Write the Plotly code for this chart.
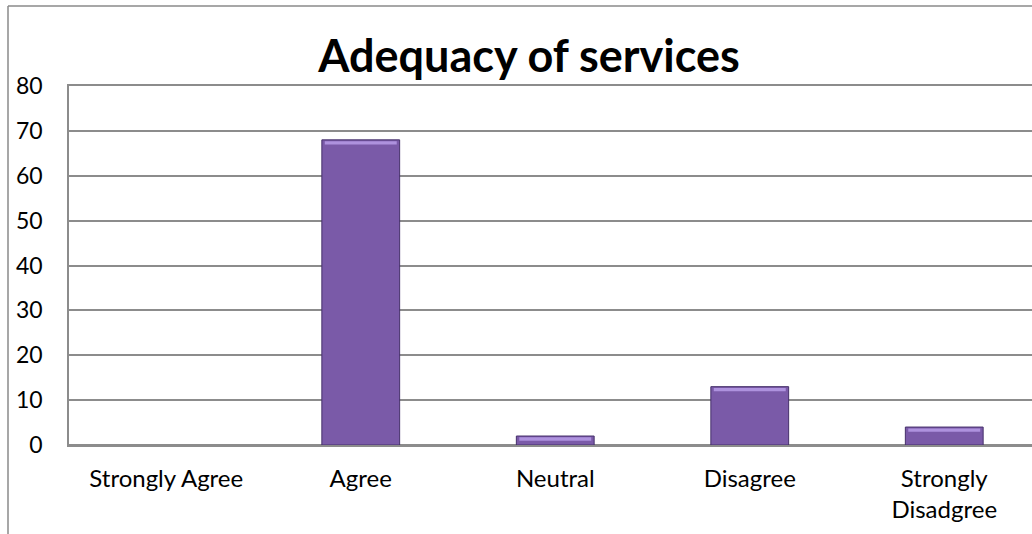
import plotly.graph_objects as go

# Survey responses on adequacy of services
categories = ["Strongly Agree", "Agree", "Neutral", "Disagree", "Strongly<br>Disadgree"]
responses = [0, 68, 2, 13, 4]
y_ticks = [0, 10, 20, 30, 40, 50, 60, 70, 80]

W, H = 1032, 534
FONT = "Lato"

fig = go.Figure()

# main bars
fig.add_trace(go.Bar(
    x=categories, y=responses, width=0.4,
    marker=dict(color="#7A5AA8",
                line=dict(color="#45306A", width=[1 if v > 0 else 0 for v in responses])),
    hoverinfo="x+y",
))

# lighter bevel strip along the top edge of each bar
cap = [0.75 if v >= 2 else 0 for v in responses]
fig.add_trace(go.Bar(
    x=categories, y=cap, base=[v - c - 0.3 for v, c in zip(responses, cap)],
    width=0.37,
    marker=dict(color="#AE92DE", line=dict(width=0)),
    hoverinfo="skip",
))

fig.update_layout(
    width=W, height=H,
    barmode="overlay",
    showlegend=False,
    paper_bgcolor="white",
    plot_bgcolor="white",
    margin=dict(l=69, r=0, t=86, b=89),
    title=dict(
        text="<b>Adequacy of services</b>",
        x=529 / W, xanchor="center",
        y=1 - 56 / H, yanchor="middle",
        font=dict(family=FONT, size=45, color="black"),
    ),
    font=dict(family=FONT, color="black"),
    shapes=[
        # outer chart frame (left and top edges)
        dict(type="line", xref="paper", yref="paper",
             x0=-61 / (W - 69), x1=-61 / (W - 69), y0=-2, y1=1 + 80 / (H - 175),
             line=dict(color="#8a8a8a", width=1.5)),
        dict(type="line", xref="paper", yref="paper",
             x0=-61 / (W - 69), x1=1.2, y0=1 + 80 / (H - 175), y1=1 + 80 / (H - 175),
             line=dict(color="#8a8a8a", width=1.5)),
    ],
)

fig.update_xaxes(
    type="category",
    range=[-0.5, -0.5 + (W - 69) / 194.5],
    showgrid=False,
    showline=True,
    mirror=True,
    linecolor="#8c8c8c",
    linewidth=1.5,
    ticks="",
    tickfont=dict(family=FONT, size=24, color="black"),
    ticklabelstandoff=11,
)

fig.update_yaxes(
    range=[0, 80],
    tickvals=y_ticks,
    showgrid=True,
    gridcolor="#8c8c8c",
    gridwidth=1.5,
    zeroline=True,
    zerolinecolor="#8c8c8c",
    zerolinewidth=1.5,
    showline=True,
    linecolor="#8c8c8c",
    linewidth=1.5,
    ticks="",
    tickfont=dict(family=FONT, size=23, color="black"),
    ticklabelstandoff=20,
)

fig.write_html("out.html")
